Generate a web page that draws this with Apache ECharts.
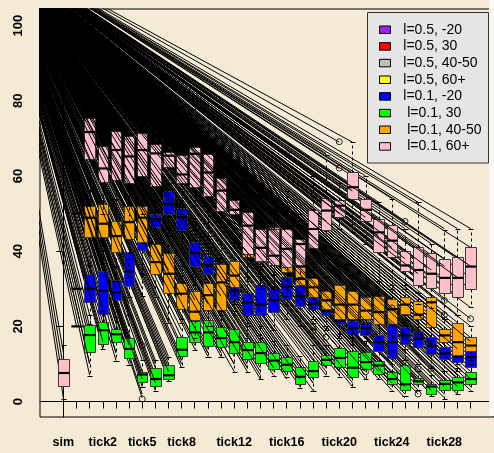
<!DOCTYPE html>
<html>
<head>
<meta charset="utf-8">
<script src="https://cdn.jsdelivr.net/npm/echarts@6/dist/echarts.min.js"></script>
<style>
html,body{margin:0;padding:0;background:#F4EAD5;}
#chart{width:494px;height:453px;}
</style>
</head>
<body>
<div id="chart"></div>
<script>
// ---------------- data ----------------
const categories = ['sim','tick0','tick1','tick2','tick3','tick4','tick5','tick6','tick7','tick8','tick9','tick10',
  'tick11','tick12','tick13','tick14','tick15','tick16','tick17','tick18','tick19','tick20','tick21','tick22',
  'tick23','tick24','tick25','tick26','tick27','tick28','tick29','tick30'];
const shownLabels = [0, 3, 6, 9, 13, 17, 21, 25, 29];
const yTicks = [0, 20, 40, 60, 80, 100];

// [lower whisker, Q1, median, Q3, upper whisker] per category
const blueStats = [
  null,[30,30,30,30,30],[20.5,26.4,30.0,34.0,36.2],[21,23.3,29.5,34.8,40],[26,26.9,29.0,32.4,36],
  [27.9,30.8,34.6,39.8,46],[28,40.3,44,48,55],[38,46.4,48.5,50.0,54],[44,49.9,52.5,55.9,58],
  [40,45.5,49,51.6,56],[31,36.0,39.5,42.4,48],[29,34.0,36.3,38.6,44],[24,27,30,33,38],
  [23,26.9,29.5,33,37],[17,22.9,26.4,28.8,33],[17,22.9,25.8,30.9,36],[19,23.8,27.0,30.0,34],
  [22,27.3,30.6,33.1,36],[20,25.3,28,30.9,34],[21,24.6,26,27.7,30],[19,22.9,24,24.6,27],
  [17,20.5,21.5,22.0,25],[15,18.0,19.5,21.5,24],[15,17.8,19.5,21.1,24],[10,13.4,15.8,17.8,21],
  [8,11.6,15.8,20.8,25],[11,15.2,17.6,19.8,23],[10,14.4,16.7,18.7,22],[9,12.7,14.9,17.1,20],
  [8,11.4,12.8,14.4,17],[8,10.5,12,14,16],[7,9.1,11.8,13.4,16]
];
const greenStats = [
  null,[20,20,20,20,20],[6.8,13.2,17.7,20.3,23],[14.0,15.2,19.0,21.2,24],[10.9,15.8,17.9,19.3,22.4],
  [9.8,11.7,14.0,16.9,22.9],[4.0,5.1,7.2,7.8,11],[2.8,4.2,6.0,9.0,11],[5.5,6.0,7.0,9.8,11.8],
  [9.1,12.2,13.8,17.3,21],[13.6,15.8,18.4,21.4,25],[11.8,14.9,18.4,21.7,26],[11.8,14.4,16.9,19.8,24],
  [7.8,12.8,15.8,19.3,24],[7.8,11.4,13.7,15.8,20],[6.0,10.2,12.9,15.8,20],[6.9,8.7,10.9,12.9,16],
  [6.6,8.1,9.8,11.8,15],[3.6,4.7,6.6,9.3,12],[2.9,6.6,8.1,10.9,15],[6.9,9.6,11.1,12.5,15],
  [6.6,9.1,11.6,14.3,18],[3.8,6.6,9.0,13.4,18],[6.0,8.7,10.5,13.1,16],[6.0,7.4,9.6,10.9,14],
  [2.9,4.7,6.0,7.8,10],[1.5,3.2,4.6,9.8,14],[3.0,4.7,5.4,6.3,8],[1.5,2.0,4.0,4.7,7],
  [0.7,3.1,4.7,5.8,8],[1.9,3.1,5.1,6.6,9],[2.9,4.7,6.0,7.8,10]
];
const orangeStats = [
  null,[50,50,50,50,50],[36,43.9,48.9,51.9,56],[38,43.9,47.3,52.6,58],[32,39.9,44.0,48.0,54],
  [33,43.3,47.7,51.9,58],[34,42.5,48.9,51.9,58],[27.7,34.0,37.1,41.9,48],[21,28.8,34.0,39.5,46],
  [22,24.6,28.7,31.5,36],[17,21.6,23.9,29.4,34],[20,24.4,28.3,31.5,36],[23.1,24.4,31.7,36.5,42],
  [26,30.4,33.5,37.5,42],[32,38.5,41,44,49],[31,37,40,43.5,48],[30,36.8,41,46.5,50],
  [28,34.4,38,42,47],[25,30.9,32.6,35.7,40],[22,27.7,30.4,32.9,37],[20,24.6,26.9,29.5,33],
  [17,22.0,25.8,30.9,36],[17,22.0,25.8,29.5,34],[18,22.0,24.2,27.7,31],[16,20.7,23.8,28.2,32],
  [16,20.7,24.6,27.3,31],[20,23.3,25.8,27.9,31],[18,22.0,23.1,26.7,29],[13,19.9,26.4,27.9,31],
  [13,15.8,17.6,19.3,22],[10,12.5,15.8,20.8,23],[11,13.4,14.9,17.1,20]
];
const pinkStats = [
  [0.7,4.2,7.6,11.4,15.1],[60,60,60,60,60],[56,64.5,71.7,75.5,84],[50,58.4,62.0,67.9,78],
  [50,59.0,66.9,71.9,84],[48,58.1,65.2,70.6,82],[50,60.1,66.9,71.3,82],[47,57.4,66.0,68.4,80],
  [58,62.3,65.4,66.3,71],[50,58.1,60.4,65.5,75],[46,57.0,65.9,67.8,80],[44,54.6,60.9,65.8,77.1],
  [42,50.6,56.1,59.4,70],[46,50.0,51.0,53.5,57],[33,39.3,46.8,50.3,60],[30,37.5,40.9,45.9,55],
  [30,36.4,38.8,45.9,55],[30,35.7,40.6,45.9,56],[33,36.4,41.9,43.3,50],[33,40.9,45.9,51.0,60.1],
  [38,45.5,50.8,54.2,65.7],[46,49.2,52.1,53.6,58],[45,53.9,57.0,61.0,69],[42,48.0,51.0,53.9,60],
  [30,39.7,45.0,48.6,53],[30,38.4,42.8,47.0,54],[30,34.8,36.2,40.0,45.9],[26,30.9,35.0,41.0,53],
  [25,30.2,34.0,39.4,41.9],[22,28.8,32.9,38.0,45.5],[23,27.7,32.9,38.4,45.9],[25.1,30.0,35.9,41.0,45.9]
];
// outlying points [category index, value]
const outliers = [
  [17,65.9],[21,62.1],[21,69.1],[26,47.9],[31,22.0],[25,24.9],
  [29,26.9],[29,23.1],[26,17.3],
  [4,24.6],[19,19.8],[19,18.8],[20,17.1],[23,7.9],
  [6,14.9],[6,0.7],[27,2.0],[27,8.7],[28,8.8]
];
// simulated trajectories: common start point, end values per category index
const trajectoryStart = [-5.3, 121];
// drawn behind the boxes
const trajectoryEndValues = [
  [1,5,9,13],
  [20,30,50,60],
  [7,10,13,16,18,20,23,27,30,33,36,40,44,48,52,56,60,64,68,72],
  [14,15,17,19,21,24,26,29,33,38,41,44,47,50,53,58,62,66,70],
  [11,13,16,18,19,21,22,25,27,29,32,35,40,44,47,52,60,65,70],
  [10,12,14,15,17,20,23,26,28,31,33,35,38,43,45,50,56,62,68],
  [1,2,4,5,6,7,8,11,15,28,30,34,40,42,46,50,55,61,67],
  [3,4,5,6,7,9,10,11,28,30,34,36,38,40,44,46,48,52,58,66],
  [6,6,7,8,9,10,11,12,21,24,29,32,36,40,44,50,54,63,66],
  [9,10,11,12,14,15,17,19,21,22,25,27,30,35,40,46,50,58,62],
  [14,15,16,18,19,21,22,24,25,27,29,31,33,36,38,42,57,63,67],
  [12,13,14,15,17,19,20,22,24,26,28,29,32,34,36,38,55,60,65],
  [12,13,14,15,17,19,20,23,24,26,27,29,31,33,36,42,51,56,59],
  [8,10,12,13,15,17,19,23,26,28,30,32,34,37,44,46,50,52],
  [8,9,10,11,12,14,16,17,20,23,25,27,29,33,39,41,44,47,50],
  [6,7,9,10,12,13,16,17,20,23,25,27,29,31,35,37,38,41,45],
  [7,8,9,10,11,12,13,19,21,24,26,28,30,33,36,37,39,42,45],
  [6,7,8,9,10,11,12,22,25,27,29,31,33,34,36,38,40,43,66],
  [4,5,6,7,8,9,20,22,25,26,28,30,31,33,36,38,42],
  [3,5,6,7,9,10,11,19,21,23,25,26,28,30,33,41,44,46,50,60],
  [7,8,9,10,11,12,13,17,19,21,23,24,25,27,29,46,48,51,54,66],
  [7,8,9,10,11,12,14,17,20,21,22,24,26,29,30,49,50,52,53,62,69],
  [4,5,6,7,8,10,12,13,15,18,20,22,24,26,28,54,55,57,60,69],
  [6,7,8,9,10,11,12,13,15,18,20,22,23,24,26,48,49,51,53,60],
  [6,7,7,8,9,10,11,13,14,15,16,18,21,22,24,26,40,42,45,48,53],
  [3,4,5,6,7,8,10,11,12,14,16,18,20,21,24,25,27,38,40,43,46,54],
  [1,2,3,4,6,8,10,11,13,15,16,17,19,20,23,24,26,27,35,36,39,46,48],
  [2,3,4,5,5,6,6,9,10,14,15,16,18,19,21,22,24,26,31,33,37,40,53],
  [2,2,3,4,4,5,9,12,13,13,14,17,20,22,24,26,28,30,32,35,39,42],
  [1,2,3,4,5,6,8,11,12,13,14,15,16,17,18,19,23,27,29,32,35,38,46],
  [2,3,3,4,5,6,7,8,10,11,12,13,14,16,19,21,23,28,30,33,38,46],
  [3,4,5,6,7,8,9,10,11,12,13,14,15,16,17,20,22,25,30,33,36,41,46]
];
// drawn over the boxes
const frontTrajectoryEndValues = [
  [], [], [10,30], [16,40], [13,30], [15,36], [6,33], [5,30], [8,35], [11,28], [16,27],
  [13,26], [13,28], [10,29], [9,24], [8,26], [9,28], [7,27], [6,26], [5,24,44], [9,21,48],
  [8,24,50], [6,21,56], [8,20,49], [8,18,44], [5,20,41], [4,18,38], [5,17,34], [3,15,35],
  [4,17,36], [4,14,33], [6,16,36]
];
const legendNames = ['l=0.5, -20','l=0.5, 30','l=0.5, 40-50','l=0.5, 60+','l=0.1, -20',' l=0.1, 30',' l=0.1, 40-50',' l=0.1, 60+'];
const legendColors = ['#A020F0','#FF0000','#BEBEBE','#FFFF00','#0000FF','#00FF00','#FFA500','#FFC0CB'];
// ---------------------------------------

const FONT = 'Liberation Sans, Arial, Helvetica, sans-serif';
const BOX_W = 0.8;
const r5 = v => Math.round(v) + 0.5;

function boxRenderer(fill) {
  return function (params, api) {
    const i = api.value(0);
    const pt = v => api.coord([i, v]);
    const half = api.size([BOX_W, 0])[0] / 2;
    const cx = pt(api.value(3))[0];
    const yLo = r5(pt(api.value(1))[1]), yQ1 = r5(pt(api.value(2))[1]);
    const yMd = pt(api.value(3))[1];
    const yQ3 = r5(pt(api.value(4))[1]), yHi = r5(pt(api.value(5))[1]);
    const px = r5(cx);
    const L = r5(cx - half), R = r5(cx + half);
    const cL = r5(cx - half / 2), cR = r5(cx + half / 2);
    const dash = {stroke: '#000', lineWidth: 1, lineDash: [3, 3]};
    const solid = {stroke: '#000', lineWidth: 1};
    return {
      type: 'group',
      children: [
        {type: 'line', shape: {x1: px, y1: yQ3, x2: px, y2: yHi}, style: dash},
        {type: 'line', shape: {x1: px, y1: yQ1, x2: px, y2: yLo}, style: dash},
        {type: 'line', shape: {x1: cL, y1: yHi, x2: cR, y2: yHi}, style: solid},
        {type: 'line', shape: {x1: cL, y1: yLo, x2: cR, y2: yLo}, style: solid},
        {type: 'rect', shape: {x: L, y: yQ3, width: R - L, height: yQ1 - yQ3},
          style: {fill: fill, stroke: '#3a3a3a', lineWidth: 1}},
        {type: 'line', shape: {x1: L, y1: yMd, x2: R, y2: yMd}, style: {stroke: '#000', lineWidth: 2.2}}
      ]
    };
  };
}

function toItems(stats) {
  const out = [];
  stats.forEach((s, i) => { if (s) out.push([i].concat(s)); });
  return out;
}

function boxSeries(name, color, stats) {
  return {
    name: name, type: 'custom', renderItem: boxRenderer(color),
    data: toItems(stats), encode: {x: 0, y: [1, 2, 3, 4, 5]},
    itemStyle: {color: color}, z: 2, silent: true
  };
}

function trajectoryItems(endValues) {
  const out = [];
  endValues.forEach((vals, i) => {
    vals.forEach(v => out.push({coords: [trajectoryStart, [i, v]]}));
  });
  return out;
}

function trajectorySeries(name, endValues, z) {
  return {
    name: name, type: 'lines', coordinateSystem: 'cartesian2d', polyline: false,
    data: trajectoryItems(endValues),
    lineStyle: {color: '#000', width: 1, opacity: 1, curveness: 0},
    clip: true, silent: true, z: z, effect: {show: false}, large: false
  };
}

const series = [];
series.push(trajectorySeries('trajectories', trajectoryEndValues, 1));
for (let k = 0; k < 4; k++) series.push(boxSeries(legendNames[k], legendColors[k], []));
series.push(boxSeries(legendNames[4], legendColors[4], blueStats));
series.push(boxSeries(legendNames[5], legendColors[5], greenStats));
series.push(boxSeries(legendNames[6], legendColors[6], orangeStats));
series.push(boxSeries(legendNames[7], legendColors[7], pinkStats));
series.push({
  name: 'outliers', type: 'scatter', data: outliers, symbol: 'circle', symbolSize: 6,
  itemStyle: {color: 'rgba(0,0,0,0)', borderColor: '#000', borderWidth: 1}, z: 2, silent: true
});
series.push(trajectorySeries('trajectories front', frontTrajectoryEndValues, 3));

const chart = echarts.init(document.getElementById('chart'), null, {renderer: 'canvas'});
chart.setOption({
  animation: false,
  backgroundColor: '#F4EAD5',
  textStyle: {fontFamily: FONT},
  grid: {left: 40, top: 9, width: 460, height: 408, show: true, borderColor: '#000', borderWidth: 1, containLabel: false},
  xAxis: {
    type: 'value', min: -1.78, max: 32.78,
    axisLine: {show: true, lineStyle: {color: '#000', width: 1}},
    axisTick: {show: true, inside: false, length: 7, customValues: categories.map((c, i) => i), lineStyle: {color: '#000'}},
    axisLabel: {show: true, customValues: shownLabels, formatter: v => categories[Math.round(v)],
      fontFamily: FONT, fontWeight: 'bold', fontSize: 12.5, color: '#000', margin: 19},
    splitLine: {show: false}
  },
  yAxis: {
    type: 'value', min: -4.1, max: 104.4,
    axisLine: {show: true, lineStyle: {color: '#000', width: 1}},
    axisTick: {show: true, inside: false, length: 7, customValues: yTicks, lineStyle: {color: '#000'}},
    axisLabel: {show: true, customValues: yTicks, rotate: 90, fontFamily: FONT, fontWeight: 'bold',
      fontSize: 13, color: '#000', margin: 15},
    splitLine: {show: false}
  },
  legend: {
    data: legendNames, orient: 'vertical', left: 379, top: 21.4, padding: 0,
    itemWidth: 11, itemHeight: 7.5, itemGap: 0, icon: 'rect', z: 101, selectedMode: false,
    itemStyle: {borderColor: '#000', borderWidth: 1},
    formatter: n => '  ' + n,
    textStyle: {fontFamily: FONT, fontSize: 14, lineHeight: 16.67, color: '#000'}
  },
  graphic: [
    {type: 'rect', z: 100, shape: {x: 367.5, y: 12.5, width: 121, height: 150.5},
      style: {fill: '#E5E5E5', stroke: '#333', lineWidth: 1}},
    {type: 'rect', z: 100, shape: {x: 489, y: 0, width: 5, height: 416},
      style: {fill: '#FAF8F2'}}
  ],
  series: series
});
</script>
</body>
</html>
